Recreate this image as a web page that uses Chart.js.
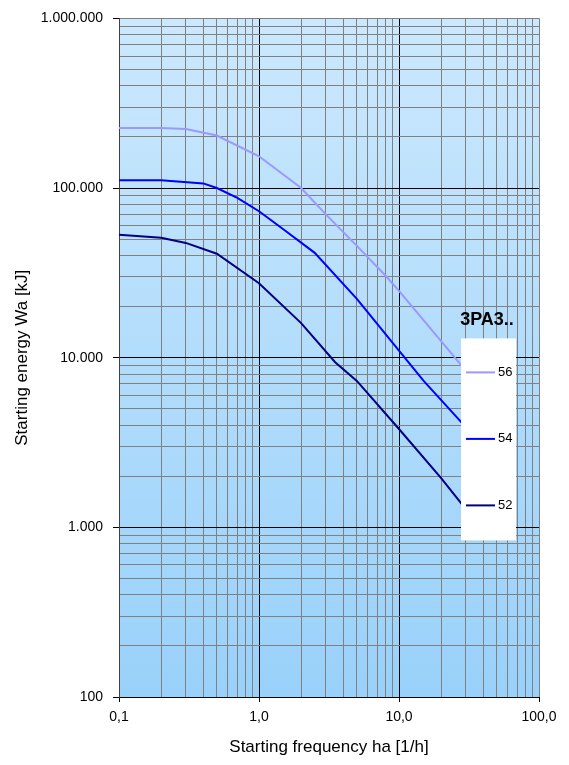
<!DOCTYPE html>
<html>
<head>
<meta charset="utf-8">
<title>Starting energy vs starting frequency</title>
<script src="https://cdn.jsdelivr.net/npm/chart.js@4.4.0/dist/chart.umd.min.js"></script>
<style>
  html, body { margin: 0; padding: 0; background: #fff; }
  #wrap { position: relative; width: 569px; height: 765px; }
</style>
</head>
<body>
<div id="wrap"><canvas id="energyChart" width="569" height="765"></canvas></div>
<script>
// Starting frequency [1/h] and starting energy [kJ] per motor size
const freq56 = [0.1, 0.2, 0.3, 0.5, 1, 2, 3, 5, 8, 10, 30];
const energy56 = [226000, 226000, 223000, 204000, 154000, 100000, 70000, 45600, 30500, 24800, 8400];

const freq54 = [0.1, 0.2, 0.4, 0.5, 0.7, 1, 1.5, 2.5, 5, 10, 15, 30];
const energy54 = [111000, 111000, 106500, 100000, 87500, 73000, 57000, 41500, 22200, 11000, 7300, 3900];

const freq52 = [0.1, 0.2, 0.3, 0.5, 1, 2, 3.5, 5, 10, 20, 30];
const energy52 = [53000, 51000, 47500, 41000, 27500, 16000, 9400, 7300, 3800, 1950, 1280];

const seriesNames = ['56', '54', '52'];
const seriesColors = ['#9999ff', '#0000ff', '#000080'];
const legendTitle = '3PA3..';

// Axis ticks (decades get labels, 2..9 steps only get grid lines)
const xMajorTicks = [0.1, 1, 10, 100];
const xTickLabels = ['0,1', '1,0', '10,0', '100,0'];
const yMajorTicks = [100, 1000, 10000, 100000, 1000000];
const yTickLabels = ['100', '1.000', '10.000', '100.000', '1.000.000'];

function toPoints(xs, ys) {
    return xs.map((x, i) => ({ x: x, y: ys[i] }));
}

function withMinorTicks(majors) {
    let all = [];
    for (let i = 0; i < majors.length - 1; i++) {
        for (let k = 1; k <= 9; k++) {
            all.push(majors[i] * k);
        }
    }
    all.push(majors[majors.length - 1]);
    return all;
}

function majorIndex(majors, v) {
    return majors.findIndex(m => Math.abs(v - m) / m < 1e-9);
}

// Light blue gradient behind the plot area
const plotBackground = {
    id: 'plotBackground',
    beforeDraw(chart) {
        const { ctx, chartArea: a } = chart;
        const grad = ctx.createLinearGradient(0, a.top, 0, a.bottom);
        grad.addColorStop(0, '#cbe8fd');
        grad.addColorStop(1, '#99d1fa');
        ctx.save();
        ctx.fillStyle = grad;
        ctx.fillRect(a.left, a.top, a.right - a.left, a.bottom - a.top);
        ctx.restore();
    }
};

// White legend box sitting on top of the plot, right side
const boxLegend = {
    id: 'boxLegend',
    afterDraw(chart) {
        const { ctx, chartArea: a } = chart;
        const boxX = a.left + 342;
        const boxY = a.top + 320;
        const boxW = 55;
        const boxH = 202;
        ctx.save();
        ctx.fillStyle = '#000';
        ctx.font = 'bold 18px "Liberation Sans", Arial, sans-serif';
        ctx.textAlign = 'center';
        ctx.textBaseline = 'middle';
        ctx.fillText(legendTitle, boxX + 26, a.top + 302);

        ctx.fillStyle = '#fff';
        ctx.fillRect(boxX, boxY, boxW, boxH);

        ctx.font = '13px "Liberation Sans", Arial, sans-serif';
        ctx.textAlign = 'left';
        seriesNames.forEach((name, i) => {
            const y = boxY + 34 + i * 66.5;
            ctx.strokeStyle = seriesColors[i];
            ctx.lineWidth = 2;
            ctx.beginPath();
            ctx.moveTo(boxX + 5, y);
            ctx.lineTo(boxX + 34, y);
            ctx.stroke();
            ctx.fillStyle = '#000';
            ctx.fillText(name, boxX + 37, y);
        });
        ctx.restore();
    }
};

const energyData = [toPoints(freq56, energy56), toPoints(freq54, energy54), toPoints(freq52, energy52)];

const tickFont = { family: '"Liberation Sans", Arial, sans-serif', size: 14 };
const titleFont = { family: '"Liberation Sans", Arial, sans-serif', size: 17 };

new Chart(document.getElementById('energyChart'), {
    type: 'line',
    data: {
        datasets: seriesNames.map((name, i) => ({
            label: name,
            data: energyData[i],
            borderColor: seriesColors[i],
            backgroundColor: seriesColors[i],
            borderWidth: 2,
            pointRadius: 0,
            tension: 0,
            fill: false
        }))
    },
    options: {
        responsive: false,
        animation: false,
        layout: { padding: { top: 17, right: 30, left: 0, bottom: 0 } },
        plugins: {
            legend: { display: false },
            tooltip: { enabled: false }
        },
        scales: {
            x: {
                type: 'logarithmic',
                min: 0.1,
                max: 100,
                afterBuildTicks(scale) {
                    scale.ticks = withMinorTicks(xMajorTicks).map(v => ({ value: v }));
                },
                afterFit(scale) { scale.height = 68; },
                ticks: {
                    autoSkip: false,
                    maxRotation: 0,
                    padding: 7,
                    color: '#000',
                    font: tickFont,
                    callback(value) {
                        const i = majorIndex(xMajorTicks, value);
                        return i >= 0 ? xTickLabels[i] : '';
                    }
                },
                grid: {
                    lineWidth: 1,
                    tickLength: 5,
                    color(c) {
                        const v = c.tick.value;
                        const i = majorIndex(xMajorTicks, v);
                        return (i > 0 && i < xMajorTicks.length - 1) ? '#000' : '#808080';
                    },
                    tickColor(c) {
                        return majorIndex(xMajorTicks, c.tick.value) >= 0 ? '#000' : 'rgba(0,0,0,0)';
                    }
                },
                border: { display: true, color: '#000', width: 1 },
                title: {
                    display: true,
                    text: 'Starting frequency ha [1/h]',
                    color: '#000',
                    font: titleFont,
                    padding: { top: 0, bottom: 7 }
                }
            },
            y: {
                type: 'logarithmic',
                min: 100,
                max: 1000000,
                afterBuildTicks(scale) {
                    scale.ticks = withMinorTicks(yMajorTicks).map(v => ({ value: v }));
                },
                afterFit(scale) { scale.width = 119; },
                ticks: {
                    autoSkip: false,
                    padding: 10,
                    color: '#000',
                    font: tickFont,
                    callback(value) {
                        const i = majorIndex(yMajorTicks, value);
                        return i >= 0 ? yTickLabels[i] : '';
                    }
                },
                grid: {
                    lineWidth: 1,
                    tickLength: 6,
                    color(c) {
                        const i = majorIndex(yMajorTicks, c.tick.value);
                        return (i > 0 && i < yMajorTicks.length - 1) ? '#000' : '#808080';
                    },
                    tickColor(c) {
                        return majorIndex(yMajorTicks, c.tick.value) >= 0 ? '#000' : 'rgba(0,0,0,0)';
                    }
                },
                border: { display: true, color: '#404040', width: 1 },
                title: {
                    display: true,
                    text: 'Starting energy Wa [kJ]',
                    color: '#000',
                    font: titleFont,
                    padding: { top: 12, bottom: 0 }
                }
            }
        }
    },
    plugins: [plotBackground, boxLegend]
});
</script>
</body>
</html>
